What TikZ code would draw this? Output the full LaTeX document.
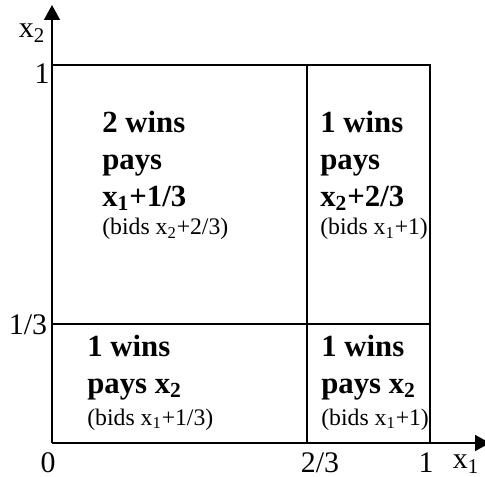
\documentclass[tikz,border=0pt]{standalone}
\usepackage{fontspec}
\setmainfont{Liberation Serif}
\usetikzlibrary{arrows.meta}
\newcommand{\bids}[1]{{\fontsize{13.5}{16}\selectfont\mdseries (bids #1)}}
\begin{document}
\begin{tikzpicture}[
x=0.02cm, y=-0.02cm,
>={Triangle[length=8.5pt,width=9pt]},
axis/.style={draw,line width=1.2pt},
grid/.style={draw,line width=0.75pt},
region/.style={anchor=base west,align=left,inner sep=0pt,font=\fontsize{17.5}{21}\selectfont\bfseries},
lbl/.style={inner sep=0pt,font=\fontsize{17}{20}\selectfont}
]
\useasboundingbox (0,0) rectangle (485,477);

\coordinate (O) at (52,443);
\coordinate (ytop) at (52,5);
\coordinate (xend) at (490,443);
\coordinate (tl) at (52,65);
\coordinate (tr) at (430,65);
\coordinate (br) at (430,443);
\coordinate (mt) at (307,65);
\coordinate (mb) at (307,443);
\coordinate (ml) at (52,324);
\coordinate (mr) at (430,324);

%axes
\path[axis,->] (O) -- (ytop);
\path[axis,->] (O) -- (xend);

%square
\path[grid] (tl) -- (tr) -- (br);
\path[grid] (mt) -- (mb);
\path[grid] (ml) -- (mr);

%ticks
\node[lbl] (lx2) at (32,33) {x\textsubscript{2}};
\node[lbl] (ly1) at (42,74) {1};
\node[lbl] (ly13) at (28,325) {1/3};
\node[lbl] (lx0) at (48,463) {0};
\node[lbl] (lx23) at (320,463) {2/3};
\node[lbl] (lx1) at (426,463) {1};
\node[lbl] (lx1n) at (466,464) {x\textsubscript{1}};

%regions
\node[region] (rtl) at (102,235) {2 wins\\pays\\x\textsubscript{1}+1/3\\[-4.6pt]\bids{x\textsubscript{2}+2/3}};
\node[region] (rtr) at (320,235) {1 wins\\pays\\x\textsubscript{2}+2/3\\[-4.6pt]\bids{x\textsubscript{1}+1}};
\node[region] (rbl) at (87,425) {1 wins\\pays x\textsubscript{2}\\[-3pt]\bids{x\textsubscript{1}+1/3}};
\node[region] (rbr) at (321,425) {1 wins\\pays x\textsubscript{2}\\[-3pt]\bids{x\textsubscript{1}+1}};

\end{tikzpicture}
\end{document}
